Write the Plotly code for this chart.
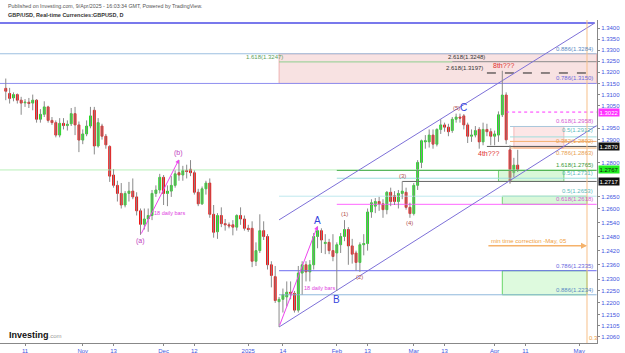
import numpy as np
import pandas as pd
import plotly.graph_objects as go

# ---------------- data ----------------
dates = pd.bdate_range("2024-10-04", "2025-04-09")
opens = [1.3128, 1.3105, 1.3085, 1.3100, 1.3075, 1.3063, 1.3066, 1.3062, 1.3075,
         1.2990, 1.3012, 1.3045, 1.2985, 1.2975, 1.2920, 1.2972, 1.2962, 1.2970, 1.3015,
         1.2965, 1.2898, 1.2925, 1.2960, 1.3030, 1.2872, 1.2960, 1.2915, 1.2870, 1.2745,
         1.2700, 1.2665, 1.2615, 1.2665, 1.2675, 1.2650, 1.2590, 1.2532, 1.2555, 1.2570,
         1.2665, 1.2680, 1.2735, 1.2665, 1.2675, 1.2700, 1.2755, 1.2745, 1.2765, 1.2770,
         1.2755, 1.2670, 1.2620, 1.2685, 1.2710, 1.2575, 1.2500, 1.2570, 1.2535, 1.2530,
         1.2530, 1.2520, 1.2570, 1.2555, 1.2515, 1.2515, 1.2375, 1.2420, 1.2505, 1.2480,
         1.2360, 1.2310, 1.2205, 1.2215, 1.2225, 1.2245, 1.2240, 1.2170, 1.2325, 1.2360,
         1.2330, 1.2360, 1.2480, 1.2505, 1.2450, 1.2455, 1.2420, 1.2410, 1.2445, 1.2480,
         1.2510, 1.2440, 1.2410, 1.2370, 1.2445, 1.2450, 1.2585, 1.2610, 1.2630, 1.2620,
         1.2595, 1.2670, 1.2655, 1.2630, 1.2665, 1.2670, 1.2605, 1.2578, 1.2700, 1.2800,
         1.2890, 1.2890, 1.2920, 1.2880, 1.2945, 1.2965, 1.2955, 1.2940, 1.2990, 1.3000,
         1.3005, 1.2965, 1.2915, 1.2920, 1.2945, 1.2890, 1.2945, 1.2935, 1.2915, 1.2920,
         1.3010, 1.3098, 1.2855, 1.2755, 1.2788]
highs = [1.3172, 1.3130, 1.3110, 1.3105, 1.3090, 1.3080, 1.3085, 1.3100, 1.3080,
         1.3035, 1.3070, 1.3050, 1.3000, 1.2985, 1.2995, 1.2995, 1.2985, 1.3040, 1.3045,
         1.2980, 1.2945, 1.2985, 1.3045, 1.3045, 1.2995, 1.2970, 1.2925, 1.2875, 1.2770,
         1.2720, 1.2710, 1.2675, 1.2715, 1.2730, 1.2670, 1.2600, 1.2600, 1.2600, 1.2680,
         1.2700, 1.2750, 1.2745, 1.2700, 1.2740, 1.2765, 1.2810, 1.2785, 1.2790, 1.2810,
         1.2765, 1.2685, 1.2695, 1.2720, 1.2730, 1.2615, 1.2580, 1.2605, 1.2555, 1.2540,
         1.2550, 1.2575, 1.2605, 1.2570, 1.2530, 1.2545, 1.2455, 1.2575, 1.2545, 1.2490,
         1.2375, 1.2355, 1.2225, 1.2260, 1.2290, 1.2290, 1.2250, 1.2355, 1.2375, 1.2375,
         1.2380, 1.2495, 1.2523, 1.2515, 1.2490, 1.2470, 1.2490, 1.2455, 1.2495, 1.2550,
         1.2520, 1.2470, 1.2420, 1.2455, 1.2490, 1.2600, 1.2640, 1.2645, 1.2650, 1.2640,
         1.2675, 1.2690, 1.2675, 1.2680, 1.2717, 1.2690, 1.2625, 1.2710, 1.2810, 1.2900,
         1.2920, 1.2945, 1.2945, 1.2950, 1.2990, 1.2975, 1.2970, 1.3000, 1.3015, 1.3015,
         1.3013, 1.2975, 1.2945, 1.2960, 1.2955, 1.2975, 1.2970, 1.2950, 1.2940, 1.3025,
         1.3207, 1.3110, 1.2875, 1.2820, 1.2855]
lows = [1.3075, 1.3060, 1.3070, 1.3060, 1.3010, 1.3045, 1.3040, 1.3030, 1.2975,
        1.2975, 1.3000, 1.2975, 1.2965, 1.2910, 1.2910, 1.2945, 1.2940, 1.2960, 1.2920,
        1.2845, 1.2880, 1.2915, 1.2950, 1.2835, 1.2865, 1.2900, 1.2860, 1.2715, 1.2690,
        1.2630, 1.2600, 1.2605, 1.2630, 1.2640, 1.2570, 1.2487, 1.2510, 1.2500, 1.2550,
        1.2650, 1.2665, 1.2615, 1.2610, 1.2650, 1.2690, 1.2720, 1.2720, 1.2730, 1.2740,
        1.2660, 1.2610, 1.2615, 1.2660, 1.2560, 1.2475, 1.2470, 1.2520, 1.2505, 1.2515,
        1.2485, 1.2505, 1.2530, 1.2505, 1.2500, 1.2350, 1.2355, 1.2410, 1.2465, 1.2340,
        1.2265, 1.2200, 1.2100, 1.2160, 1.2185, 1.2215, 1.2160, 1.2160, 1.2235, 1.2290,
        1.2290, 1.2340, 1.2430, 1.2410, 1.2405, 1.2405, 1.2375, 1.2250, 1.2410, 1.2460,
        1.2360, 1.2365, 1.2335, 1.2330, 1.2400, 1.2420, 1.2560, 1.2580, 1.2590, 1.2560,
        1.2575, 1.2610, 1.2615, 1.2600, 1.2640, 1.2595, 1.2560, 1.2570, 1.2680, 1.2775,
        1.2860, 1.2865, 1.2860, 1.2870, 1.2925, 1.2935, 1.2915, 1.2930, 1.2975, 1.2975,
        1.2945, 1.2885, 1.2890, 1.2910, 1.2860, 1.2875, 1.2915, 1.2875, 1.2875, 1.2890,
        1.3000, 1.2880, 1.2707, 1.2735, 1.2758]
closes = [1.3115, 1.3083, 1.3100, 1.3075, 1.3062, 1.3066, 1.3060, 1.3075, 1.2990,
          1.3012, 1.3045, 1.2985, 1.2975, 1.2920, 1.2972, 1.2962, 1.2968, 1.3015, 1.2965,
          1.2898, 1.2925, 1.2960, 1.3005, 1.2872, 1.2975, 1.2915, 1.2877, 1.2740, 1.2700,
          1.2665, 1.2615, 1.2665, 1.2675, 1.2650, 1.2590, 1.2532, 1.2555, 1.2570, 1.2665,
          1.2680, 1.2735, 1.2665, 1.2675, 1.2700, 1.2750, 1.2745, 1.2765, 1.2760, 1.2755,
          1.2670, 1.2620, 1.2685, 1.2710, 1.2575, 1.2498, 1.2570, 1.2535, 1.2530, 1.2525,
          1.2520, 1.2570, 1.2555, 1.2515, 1.2510, 1.2375, 1.2420, 1.2505, 1.2480, 1.2360,
          1.2315, 1.2210, 1.2215, 1.2235, 1.2245, 1.2240, 1.2170, 1.2325, 1.2360, 1.2330,
          1.2360, 1.2480, 1.2505, 1.2465, 1.2455, 1.2420, 1.2395, 1.2445, 1.2480, 1.2510,
          1.2440, 1.2405, 1.2370, 1.2445, 1.2450, 1.2585, 1.2625, 1.2630, 1.2620, 1.2595,
          1.2670, 1.2630, 1.2630, 1.2665, 1.2675, 1.2605, 1.2578, 1.2700, 1.2800, 1.2895,
          1.2895, 1.2920, 1.2880, 1.2945, 1.2965, 1.2955, 1.2935, 1.2990, 1.3000, 1.2995,
          1.2965, 1.2915, 1.2920, 1.2940, 1.2890, 1.2945, 1.2935, 1.2915, 1.2925, 1.3010,
          1.3098, 1.2899, 1.2716, 1.2788, 1.2767]
assert len(dates) == len(opens) == len(highs) == len(lows) == len(closes)

y_tick_values = [1.3400, 1.3350, 1.3300, 1.3250, 1.3200, 1.3150, 1.3100, 1.3050,
                 1.2950, 1.2900, 1.2800, 1.2650, 1.2600, 1.2540,
                 1.2480, 1.2420, 1.2360, 1.2300, 1.2250, 1.2200, 1.2150, 1.2105, 1.2060]
x_tick_dates = ["2024-10-11", "2024-11-01", "2024-11-13", "2024-12-02", "2024-12-12",
                "2025-01-01", "2025-01-14", "2025-02-03", "2025-02-13", "2025-03-03",
                "2025-03-13", "2025-04-01", "2025-04-11", "2025-05-01"]
x_tick_text = ["11", "Nov", "13", "Dec", "12", "2025", "14", "Feb", "13", "Mar",
               "13", "Apr", "11", "May"]

X_RANGE = ["2024-10-02 12:00", "2025-05-07 14:24"]
Y_RANGE = [1.20341, 1.34381]
END = "2025-05-07 12:00"

# horizontal levels: (value, start date, end date, color, width, dash)
levels = [
    (1.3424, "2024-10-02 12:00", "2025-05-07", "#4b4be6", 1.5, "solid"),
    (1.3284, "2024-10-02 12:00", END, "#9dbfe0", 1, "solid"),
    (1.3150, "2024-10-02 12:00", END, "#8f8ff0", 1, "solid"),
    (1.3247, "2025-01-13", "2025-03-17", "#8fcf8f", 1, "solid"),
    (1.3248, "2025-03-17", END, "#8a8a8a", 1, "solid"),
    (1.3197, "2025-03-28", "2025-05-07", "#222222", 1, "dash"),
    (1.3022, "2025-04-04", END, "#ff33ff", 1, "dot"),
    (1.2958, "2025-04-07", END, "#a9c8dc", 1, "solid"),
    (1.2912, "2025-04-07", END, "#9fdede", 1, "solid"),
    (1.2892, "2025-04-07", END, "#f5b070", 1, "solid"),
    (1.2870, "2025-03-28", END, "#555555", 1, "solid"),
    (1.2863, "2025-04-07", END, "#f5b070", 1, "solid"),
    (1.2767, "2024-10-02 12:00", END, "#b8f0b8", 1, "solid"),
    (1.2765, "2025-02-03", END, "#4caf50", 1, "solid"),
    (1.2731, "2025-02-03", END, "#9fdede", 1, "solid"),
    (1.2717, "2025-02-26", END, "#666666", 1, "solid"),
    (1.2653, "2025-01-13", END, "#bfe8ee", 1, "solid"),
    (1.2618, "2025-02-03", END, "#ff66ff", 1, "solid"),
    (1.2335, "2025-01-13", END, "#6d6df0", 1, "solid"),
    (1.2234, "2025-01-13", END, "#8fb8dc", 1, "solid"),
]
# zones: (x0, x1, low, high, fill, border)
zones = [
    ("2025-01-13", END, 1.3150, 1.3284, "rgba(240,190,190,0.45)", "rgba(230,140,140,0.6)"),
    ("2025-04-08", "2025-04-25", 1.2863, 1.2958, "rgba(248,200,200,0.45)", "rgba(240,150,150,0.6)"),
    ("2025-04-02", "2025-04-25", 1.2717, 1.2765, "rgba(170,240,170,0.45)", "rgba(90,200,90,0.8)"),
    ("2025-04-03", "2025-05-05", 1.2618, 1.2653, "rgba(170,240,170,0.45)", "rgba(90,200,90,0.8)"),
    ("2025-04-03", "2025-05-05", 1.2234, 1.2335, "rgba(190,245,190,0.5)", "rgba(90,210,90,0.9)"),
]
# right-hand level captions: (text, value, color, anchor, shift)
captions = [
    ("0.886(1.3284)", 1.3284, "#5b8bc4", "bottom", 0),
    ("0.786(1.3150)", 1.3150, "#6a6ae0", "bottom", 0),
    ("0.618(1.2958)", 1.2958, "#d45bd4", "bottom", 0),
    ("0.5(1.2912)", 1.2912, "#5bbcbc", "bottom", 2),
    ("0.382(1.2892)", 1.2892, "#e8a050", "middle", 0),
    ("0.786(1.2863)", 1.2863, "#e8a050", "top", 0),
    ("1.618(1.2765)", 1.2765, "#3a9a3a", "bottom", 0),
    ("0.5(1.2731)", 1.2731, "#5bbcbc", "bottom", 0),
    ("0.5(1.2653)", 1.2653, "#5bbcbc", "bottom", 0),
    ("0.618(1.2618)", 1.2618, "#d45bd4", "bottom", 0),
    ("0.786(1.2335)", 1.2335, "#6a6ae0", "bottom", 0),
    ("0.886(1.2234)", 1.2234, "#5b8bc4", "bottom", 0),
]
# wave labels: (text, date, price, color, size)
wave_labels = [
    ("(a)", "2024-11-22", 1.2461, "#c040c0", 7),
    ("(b)", "2024-12-06", 1.2841, "#c040c0", 7),
    ("A", "2025-01-27", 1.2550, "#3344dd", 10),
    ("B", "2025-02-03", 1.2216, "#3344dd", 10),
    ("C", "2025-03-20", 1.3044, "#3344dd", 10),
    ("(1)", "2025-02-05", 1.2576, "#b05050", 6),
    ("(2)", "2025-02-11", 1.2308, "#b05050", 6),
    ("(3)", "2025-02-26", 1.2741, "#b05050", 6),
    ("(4)", "2025-02-28", 1.2537, "#b05050", 6),
    ("(5)", "2025-03-18", 1.3040, "#b05050", 6),
    ("4th???", "2025-03-28 12:00", 1.2841, "#e03030", 7),
    ("8th???", "2025-04-03 12:00", 1.3233, "#e03030", 7),
    ("18 daily bars", "2024-12-03 12:00", 1.2580, "#e040e0", 5.5),
    ("18 daily bars", "2025-01-27 12:00", 1.2262, "#e040e0", 5.5),
]
# price tags on the axis: (value, background, text colour)
tags = [(1.3022, "#ff33ff", "white"), (1.2870, "#111111", "white"),
        (1.2767, "#22ee22", "#111111"), (1.2717, "#111111", "white")]

# ---------------- figure ----------------
fig = go.Figure()
L = np.log10

def hline(v, x0, x1, color, width, dash):
    fig.add_trace(go.Scatter(x=[x0, x1], y=[v, v], mode="lines",
                             line=dict(color=color, width=width, dash=dash),
                             hoverinfo="skip", showlegend=False))

for x0, x1, lo, hi, fill, border in zones:
    fig.add_trace(go.Scatter(x=[x0, x1, x1, x0, x0], y=[lo, lo, hi, hi, lo], mode="lines",
                             fill="toself", fillcolor=fill, line=dict(color=border, width=1),
                             hoverinfo="skip", showlegend=False))
for v, x0, x1, c, w, d in levels:
    hline(v, x0, x1, c, w, d)

# channel
fig.add_trace(go.Scatter(x=["2025-01-13", "2025-05-07"], y=[1.2551, 1.3424], mode="lines",
                         line=dict(color="#7d70d8", width=1), hoverinfo="skip", showlegend=False))
fig.add_trace(go.Scatter(x=["2025-01-13", END], y=[1.2100, 1.2962], mode="lines",
                         line=dict(color="#7d70d8", width=1), hoverinfo="skip", showlegend=False))

# wicks
wx, wy = [], []
for d, h, l in zip(dates, highs, lows):
    wx += [d, d, None]
    wy += [l, h, None]
fig.add_trace(go.Scatter(x=wx, y=wy, mode="lines", line=dict(color="#8a8a8a", width=1),
                         hoverinfo="skip", showlegend=False))
# bodies
body_hi = [max(o, c) for o, c in zip(opens, closes)]
body_lo = [min(o, c) for o, c in zip(opens, closes)]
fig.add_trace(go.Candlestick(x=dates, open=opens, high=body_hi, low=body_lo, close=closes,
                             increasing=dict(line=dict(color="#22dd22", width=1), fillcolor="#22dd22"),
                             decreasing=dict(line=dict(color="#ee1111", width=1), fillcolor="#ee1111"),
                             whiskerwidth=0, showlegend=False, hoverinfo="skip"))

ann = []
for text, v, col, anc, sh in captions:
    ann.append(dict(x="2025-05-07", y=L(v), xref="x", yref="y", text=text, showarrow=False,
                    xanchor="right", yanchor=anc, yshift=sh,
                    font=dict(size=6, color=col, family="Arial")))
for text, d, p, col, s in wave_labels:
    ann.append(dict(x=d, y=L(p), xref="x", yref="y", text=text, showarrow=False,
                    font=dict(size=s, color=col, family="Arial")))
ann += [
    dict(x="2025-01-14 12:00", y=L(1.3247), xref="x", yref="y", text="1.618(1.3247)", showarrow=False,
         xanchor="right", yanchor="bottom", font=dict(size=6, color="#5aa05a", family="Arial")),
    dict(x="2025-03-28", y=L(1.3248), xref="x", yref="y", text="2.618(1.3248)", showarrow=False,
         xanchor="right", yanchor="bottom", font=dict(size=6, color="#333333", family="Arial")),
    dict(x="2025-03-27 12:00", y=L(1.3197), xref="x", yref="y", text="2.618(1.3197)", showarrow=False,
         xanchor="right", yanchor="bottom", font=dict(size=6, color="#333333", family="Arial")),
    dict(x="2025-04-14", y=L(1.2441), xref="x", yref="y", text="min time correction -May, 05",
         showarrow=False, yanchor="bottom", font=dict(size=6, color="#f0a040", family="Arial")),
    dict(x="2025-05-05", y=0, xref="x", yref="paper", text="0.3", showarrow=False,
         xanchor="left", yanchor="bottom", font=dict(size=6, color="#f0a040", family="Arial")),
    # arrows
    dict(x="2024-12-06", y=L(1.2813), ax="2024-11-22", ay=L(1.2486), xref="x", yref="y",
         axref="x", ayref="y", showarrow=True, arrowhead=2, arrowsize=0.8, arrowwidth=1,
         arrowcolor="#ee44ee", text=""),
    dict(x="2025-01-27", y=L(1.2525), ax="2025-01-13", ay=L(1.2101), xref="x", yref="y",
         axref="x", ayref="y", showarrow=True, arrowhead=2, arrowsize=0.8, arrowwidth=1,
         arrowcolor="#ee44ee", text=""),
    dict(x="2025-05-05", y=L(1.2441), ax="2025-03-28", ay=L(1.2441), xref="x", yref="y",
         axref="x", ayref="y", showarrow=True, arrowhead=2, arrowsize=0.8, arrowwidth=1.5,
         arrowcolor="#f5b26b", text=""),
]
for v, bg, fg in tags:
    ann.append(dict(x=1, y=L(v), xref="paper", yref="y", xanchor="left", text=f"{v:.4f}",
                    showarrow=False, bgcolor=bg, font=dict(size=6, color=fg, family="Arial"),
                    borderpad=0.5, xshift=1))
# header & logo (paper coords)
ann += [
    dict(x=0.01, y=1.043, xref="paper", yref="paper", xanchor="left", yanchor="middle",
         text="Published on Investing.com, 9/Apr/2025 - 16:03:34 GMT, Powered by TradingView.",
         showarrow=False, font=dict(size=5.3, color="#555555", family="Arial")),
    dict(x=0.01, y=1.0146, xref="paper", yref="paper", xanchor="left", yanchor="middle",
         text="<b>GBP/USD, Real-time Currencies:GBPUSD, D</b>",
         showarrow=False, font=dict(size=5.5, color="#333333", family="Arial")),
    dict(x=0.011, y=0.025, xref="paper", yref="paper", xanchor="left", yanchor="middle",
         text="<b>Investing</b><span style='font-size:6px;color:#9a9a9a'>.com</span>",
         showarrow=False, font=dict(size=9, color="#111111", family="Arial")),
]

fig.update_layout(
    width=625, height=353, margin=dict(l=0, r=28, t=20, b=10),
    paper_bgcolor="white", plot_bgcolor="white", showlegend=False,
    annotations=ann,
    shapes=[dict(type="line", xref="x", yref="paper", x0="2025-05-05", x1="2025-05-05",
                 y0=0, y1=1, line=dict(color="#f7c08a", width=1))],
    xaxis=dict(type="date", range=X_RANGE, rangebreaks=[dict(bounds=["sat", "mon"])],
               rangeslider=dict(visible=False), showgrid=False, zeroline=False,
               tickvals=x_tick_dates, ticktext=x_tick_text, ticks="outside", ticklen=2,
               tickcolor="#888888", showline=True, linecolor="#888888", linewidth=1,
               tickfont=dict(size=6, color="#3f55e0", family="Arial")),
    yaxis=dict(type="log", range=[L(Y_RANGE[0]), L(Y_RANGE[1])], side="right",
               showgrid=False, zeroline=False, tickvals=y_tick_values,
               ticktext=[f"{v:.4f}" for v in y_tick_values], ticks="outside", ticklen=2,
               tickcolor="#888888", showline=True, linecolor="#888888", linewidth=1,
               tickfont=dict(size=6, color="#3f55e0", family="Arial")),
)

fig.write_html("out.html")
